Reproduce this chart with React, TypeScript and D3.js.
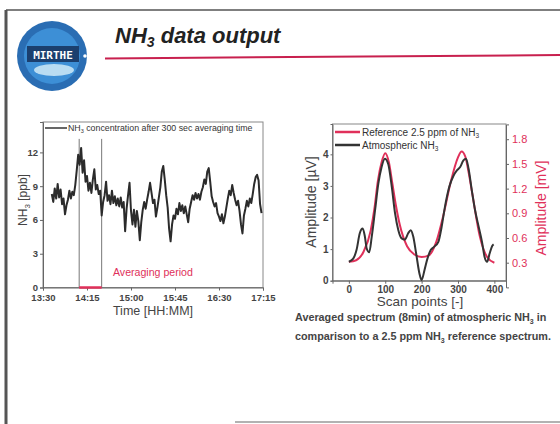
import { useRef, useEffect } from "react";
import * as d3 from "d3";

// NH3 time series (ppb), one reading every 1.5 min starting 13:39
const nh3StartMin = 9;
const nh3StepMin = 1.5;
const nh3Ppb = [
  8.3, 7.6, 8.8, 7.9, 9.2, 8.0, 8.7, 7.4, 7.9, 6.5, 7.3, 7.8, 8.6, 7.9, 8.5, 8.2,
  9.1, 10.4, 11.8, 10.9, 12.4, 10.2, 11.3, 9.4, 9.9, 8.6, 9.3, 8.4, 9.6, 10.5, 8.7, 9.1,
  8.3, 8.6, 6.4, 7.6, 8.2, 9.4, 7.7, 8.2, 7.4, 8.6, 7.5, 8.1, 7.3, 7.9, 7.2, 8.0,
  7.1, 7.6, 5.0, 7.0, 8.2, 9.3, 6.8, 5.6, 6.9, 5.4, 6.8, 5.9, 4.2, 5.8, 6.9, 7.6,
  7.0, 7.8, 8.5, 9.3, 8.4, 7.5, 7.8, 6.3, 7.1, 8.0, 8.9, 10.3, 10.8, 9.6, 8.2, 7.1,
  5.2, 4.1, 5.6, 6.4, 6.1, 7.0, 6.5, 7.5, 6.8, 7.3, 6.6, 7.2, 6.5, 5.8, 7.0, 7.6,
  8.2, 7.8, 8.4, 7.9, 8.3, 7.8, 8.5, 8.9, 9.6, 9.2, 10.3, 10.6, 9.4, 8.1, 7.6, 7.2,
  7.5, 6.6, 6.3, 5.9, 6.5, 5.7, 6.3, 7.1, 7.9, 8.6, 8.2, 9.1, 8.4, 7.8, 7.3, 7.7,
  6.8, 5.6, 4.8, 6.4, 7.0, 7.7, 7.2, 7.9, 7.5, 8.3, 9.2, 9.8, 10.0, 9.5, 7.4, 6.6,
];
const avgPeriodMin = [37, 60];
const timeTicks = [0, 45, 90, 135, 180, 225];
const timeTickLabels = ["13:30", "14:15", "15:00", "15:45", "16:30", "17:15"];
const ppbTicks = [0, 3, 6, 9, 12];

// Spectrum: reference (mV, right axis) and atmospheric (µV, left axis)
const refScan = [0, 20, 40, 60, 70, 80, 90, 100, 110, 120, 130, 140, 160, 180, 200, 220, 240, 260, 280, 300, 310, 320, 330, 340, 360, 380, 400];
const refMv = [0.31, 0.33, 0.43, 0.69, 0.95, 1.3, 1.52, 1.63, 1.52, 1.25, 0.98, 0.76, 0.5, 0.4, 0.37, 0.39, 0.55, 0.88, 1.28, 1.58, 1.65, 1.59, 1.38, 1.12, 0.62, 0.37, 0.3];
const atmScan = [0, 12, 21, 30, 38, 44, 49, 56, 63, 72, 81, 90, 99, 108, 118, 127, 136, 145, 154, 163, 170, 177, 185, 194, 200, 208, 216, 225, 234, 246, 255, 264, 276, 288, 297, 306, 315, 322, 329, 338, 347, 357, 366, 373, 380, 387, 394, 398];
const atmUv = [0.6, 0.7, 0.97, 1.5, 1.65, 1.4, 1.02, 0.9, 1.4, 2.23, 3.07, 3.6, 3.86, 3.7, 2.97, 2.13, 1.6, 1.34, 1.3, 1.5, 1.6, 1.4, 0.86, 0.23, 0.02, 0.34, 0.7, 0.97, 1.07, 1.23, 1.7, 2.33, 2.97, 3.33, 3.49, 3.6, 3.81, 3.86, 3.55, 2.86, 2.23, 1.7, 1.23, 0.76, 0.6, 0.86, 1.1, 1.15];
const scanTicks = [0, 100, 200, 300, 400];
const uvTicks = [0, 1, 2, 3, 4];
const mvTicks = [0.3, 0.6, 0.9, 1.2, 1.5, 1.8];

const FONT = "Liberation Sans, Arial, sans-serif";
const RED = "#e0305a";

export default function App() {
  const svgRef = useRef<SVGSVGElement>(null);

  useEffect(() => {
    const svg = d3.select(svgRef.current);
    svg.selectAll("*").remove();

    // slide frame
    svg.append("rect").attr("width", 560).attr("height", 424).attr("fill", "#fff");
    svg.append("line").attr("x1", 6).attr("x2", 6).attr("y1", 10).attr("y2", 424).attr("stroke", "#555").attr("stroke-width", 3);
    svg.append("line").attr("x1", 6).attr("x2", 560).attr("y1", 10).attr("y2", 10).attr("stroke", "#555").attr("stroke-width", 1.5);
    svg.append("line").attr("x1", 235).attr("x2", 560).attr("y1", 422).attr("y2", 422).attr("stroke", "#999").attr("stroke-width", 1.5);

    // logo
    const logo = svg.append("g").attr("transform", "translate(52,56)");
    logo.append("circle").attr("r", 35).attr("fill", "#2a6db3");
    logo.append("circle").attr("r", 28).attr("fill", "#3d8fd6");
    logo.append("ellipse").attr("cx", 2).attr("cy", 14).attr("rx", 20).attr("ry", 6).attr("fill", "#b9dcf2");
    logo.append("rect").attr("x", -25).attr("y", -10).attr("width", 52).attr("height", 16).attr("fill", "#1b3f6e");
    logo.append("text").attr("x", 1).attr("y", 3).attr("text-anchor", "middle")
      .attr("font-family", "DejaVu Sans Mono, monospace").attr("font-weight", "bold").attr("font-size", 11)
      .attr("fill", "#fff").text("MIRTHE");
    logo.append("circle").attr("cx", 33).attr("cy", 0).attr("r", 1.8).attr("fill", "#fff");

    // title
    const title = svg.append("text").attr("x", 115).attr("y", 43)
      .attr("font-family", FONT).attr("font-weight", "bold").attr("font-style", "italic")
      .attr("font-size", 22).attr("fill", "#222");
    title.append("tspan").text("NH");
    title.append("tspan").attr("dy", 4).attr("font-size", 14).text("3");
    title.append("tspan").attr("dy", -4).text(" data output");
    svg.append("line").attr("x1", 105).attr("y1", 58.5).attr("x2", 560).attr("y2", 55)
      .attr("stroke", "#c8204e").attr("stroke-width", 2);

    // ---------- left chart: NH3 time series ----------
    const x1 = d3.scaleLinear().domain([0, 225]).range([43, 263]);
    const y1 = d3.scaleLinear().domain([0, 14.7]).range([287.5, 122]);
    const g1 = svg.append("g");

    g1.append("rect").attr("x", 43).attr("y", 122).attr("width", 220).attr("height", 165.5)
      .attr("fill", "none").attr("stroke", "#888").attr("stroke-width", 1);

    const ax1 = g1.append("g").attr("transform", "translate(0,287.5)")
      .call(d3.axisBottom(x1).tickValues(timeTicks).tickSize(3).tickPadding(4).tickFormat((d, i) => timeTickLabels[i]));
    const ay1 = g1.append("g").attr("transform", "translate(43,0)")
      .call(d3.axisLeft(y1).tickValues(ppbTicks).tickSize(3).tickPadding(2).tickFormat(d3.format("d")));
    [ax1, ay1].forEach(a => {
      a.select(".domain").attr("stroke", "#666");
      a.selectAll("line").attr("stroke", "#666");
      a.selectAll("text").attr("font-family", FONT).attr("font-size", 9.5).attr("fill", "#444").attr("font-weight", "bold");
    });

    // averaging period
    avgPeriodMin.forEach(m => {
      g1.append("line").attr("x1", x1(m)).attr("x2", x1(m)).attr("y1", y1(13.2)).attr("y2", y1(0))
        .attr("stroke", "#777").attr("stroke-width", 1);
    });
    g1.append("line").attr("x1", x1(avgPeriodMin[0])).attr("x2", x1(avgPeriodMin[1]))
      .attr("y1", y1(0)).attr("y2", y1(0)).attr("stroke", RED).attr("stroke-width", 2.5);
    g1.append("text").attr("x", 113).attr("y", 275.5).attr("font-family", FONT).attr("font-size", 10.6)
      .attr("fill", RED).text("Averaging period");

    const nh3Line = d3.line<number>()
      .x((d, i) => x1(nh3StartMin + i * nh3StepMin))
      .y(d => y1(d));
    g1.append("path").datum(nh3Ppb).attr("d", nh3Line).attr("fill", "none")
      .attr("stroke", "#2b2b2b").attr("stroke-width", 2).attr("stroke-linejoin", "round");

    // legend
    g1.append("line").attr("x1", 45).attr("x2", 67).attr("y1", 128).attr("y2", 128).attr("stroke", "#333").attr("stroke-width", 1.5);
    const leg1 = g1.append("text").attr("x", 68).attr("y", 131).attr("font-family", FONT).attr("font-size", 8.8).attr("fill", "#333");
    leg1.append("tspan").text("NH");
    leg1.append("tspan").attr("dy", 2).attr("font-size", 5.5).text("3");
    leg1.append("tspan").attr("dy", -2).text(" concentration after 300 sec averaging time");

    // axis titles
    const yl1 = g1.append("text").attr("transform", "translate(27,200) rotate(-90)").attr("text-anchor", "middle")
      .attr("font-family", FONT).attr("font-size", 12).attr("fill", "#444");
    yl1.append("tspan").text("NH");
    yl1.append("tspan").attr("dy", 3).attr("font-size", 8).text("3");
    yl1.append("tspan").attr("dy", -3).text(" [ppb]");
    g1.append("text").attr("x", 153).attr("y", 315).attr("text-anchor", "middle")
      .attr("font-family", FONT).attr("font-size", 12.5).attr("fill", "#444").text("Time [HH:MM]");

    // ---------- right chart: spectrum ----------
    const x2 = d3.scaleLinear().domain([-45, 432]).range([332.5, 506]);
    const yUv = d3.scaleLinear().domain([0, 4.96]).range([280.7, 124]);
    const yMv = d3.scaleLinear().domain([0, 1.98]).range([287.4, 124.4]);
    const g2 = svg.append("g");

    g2.append("rect").attr("x", 332.5).attr("y", 124).attr("width", 173.5).attr("height", 156.7)
      .attr("fill", "none").attr("stroke", "#888").attr("stroke-width", 1);

    const ax2 = g2.append("g").attr("transform", "translate(0,280.7)")
      .call(d3.axisBottom(x2).tickValues(scanTicks).tickSize(3).tickPadding(2).tickFormat(d3.format("d")));
    const ay2 = g2.append("g").attr("transform", "translate(332.5,0)")
      .call(d3.axisLeft(yUv).tickValues(uvTicks).tickSize(2).tickPadding(2).tickFormat(d3.format("d")));
    const ay3 = g2.append("g").attr("transform", "translate(506,0)")
      .call(d3.axisRight(yMv).tickValues(mvTicks).tickSize(3).tickPadding(3).tickFormat(d3.format(".1f")));
    [ax2, ay2, ay3].forEach(a => {
      a.select(".domain").attr("stroke", "#666");
      a.selectAll("line").attr("stroke", "#666");
      a.selectAll("text").attr("font-family", FONT).attr("font-size", 10).attr("fill", "#444").attr("font-weight", "bold");
    });
    ay3.selectAll("text").attr("fill", RED).attr("font-weight", "normal").attr("font-size", 11);

    const refLine = d3.line<number>().x((d, i) => x2(refScan[i])).y(d => yMv(d)).curve(d3.curveMonotoneX);
    g2.append("path").datum(refMv).attr("d", refLine).attr("fill", "none")
      .attr("stroke", RED).attr("stroke-width", 2);
    const atmLine = d3.line<number>().x((d, i) => x2(atmScan[i])).y(d => yUv(d)).curve(d3.curveMonotoneX);
    g2.append("path").datum(atmUv).attr("d", atmLine).attr("fill", "none")
      .attr("stroke", "#333").attr("stroke-width", 2);

    // legend
    g2.append("line").attr("x1", 335).attr("x2", 360).attr("y1", 132).attr("y2", 132).attr("stroke", RED).attr("stroke-width", 2.5);
    const lr = g2.append("text").attr("x", 362).attr("y", 135.5).attr("font-family", FONT).attr("font-size", 10).attr("fill", "#333");
    lr.append("tspan").text("Reference 2.5 ppm of NH");
    lr.append("tspan").attr("dy", 2).attr("font-size", 6.5).text("3");
    g2.append("line").attr("x1", 335).attr("x2", 360).attr("y1", 145).attr("y2", 145).attr("stroke", "#333").attr("stroke-width", 2.5);
    const la = g2.append("text").attr("x", 362).attr("y", 148.5).attr("font-family", FONT).attr("font-size", 10).attr("fill", "#333");
    la.append("tspan").text("Atmospheric NH");
    la.append("tspan").attr("dy", 2).attr("font-size", 6.5).text("3");

    // axis titles
    g2.append("text").attr("transform", "translate(316,202) rotate(-90)").attr("text-anchor", "middle")
      .attr("font-family", FONT).attr("font-size", 14).attr("fill", "#444").text("Amplitude [\u00b5V]");
    g2.append("text").attr("transform", "translate(546,208) rotate(-90)").attr("text-anchor", "middle")
      .attr("font-family", FONT).attr("font-size", 14).attr("fill", RED).text("Amplitude [mV]");
    g2.append("text").attr("x", 420).attr("y", 306).attr("text-anchor", "middle")
      .attr("font-family", FONT).attr("font-size", 13.5).attr("fill", "#444").text("Scan points [-]");

    // caption
    const cap1 = g2.append("text").attr("x", 295).attr("y", 321).attr("font-family", FONT)
      .attr("font-weight", "bold").attr("font-size", 10.8).attr("fill", "#444");
    cap1.append("tspan").text("Averaged spectrum (8min) of atmospheric NH");
    cap1.append("tspan").attr("dy", 2.5).attr("font-size", 7).text("3");
    cap1.append("tspan").attr("dy", -2.5).text(" in");
    const cap2 = g2.append("text").attr("x", 295).attr("y", 340).attr("font-family", FONT)
      .attr("font-weight", "bold").attr("font-size", 10.8).attr("fill", "#444");
    cap2.append("tspan").text("comparison to a 2.5 ppm NH");
    cap2.append("tspan").attr("dy", 2.5).attr("font-size", 7).text("3");
    cap2.append("tspan").attr("dy", -2.5).text(" reference spectrum.");
  }, []);

  return (
    <svg ref={svgRef} width={560} height={424} style={{ position: "absolute", left: 0, top: 0 }} />
  );
}
